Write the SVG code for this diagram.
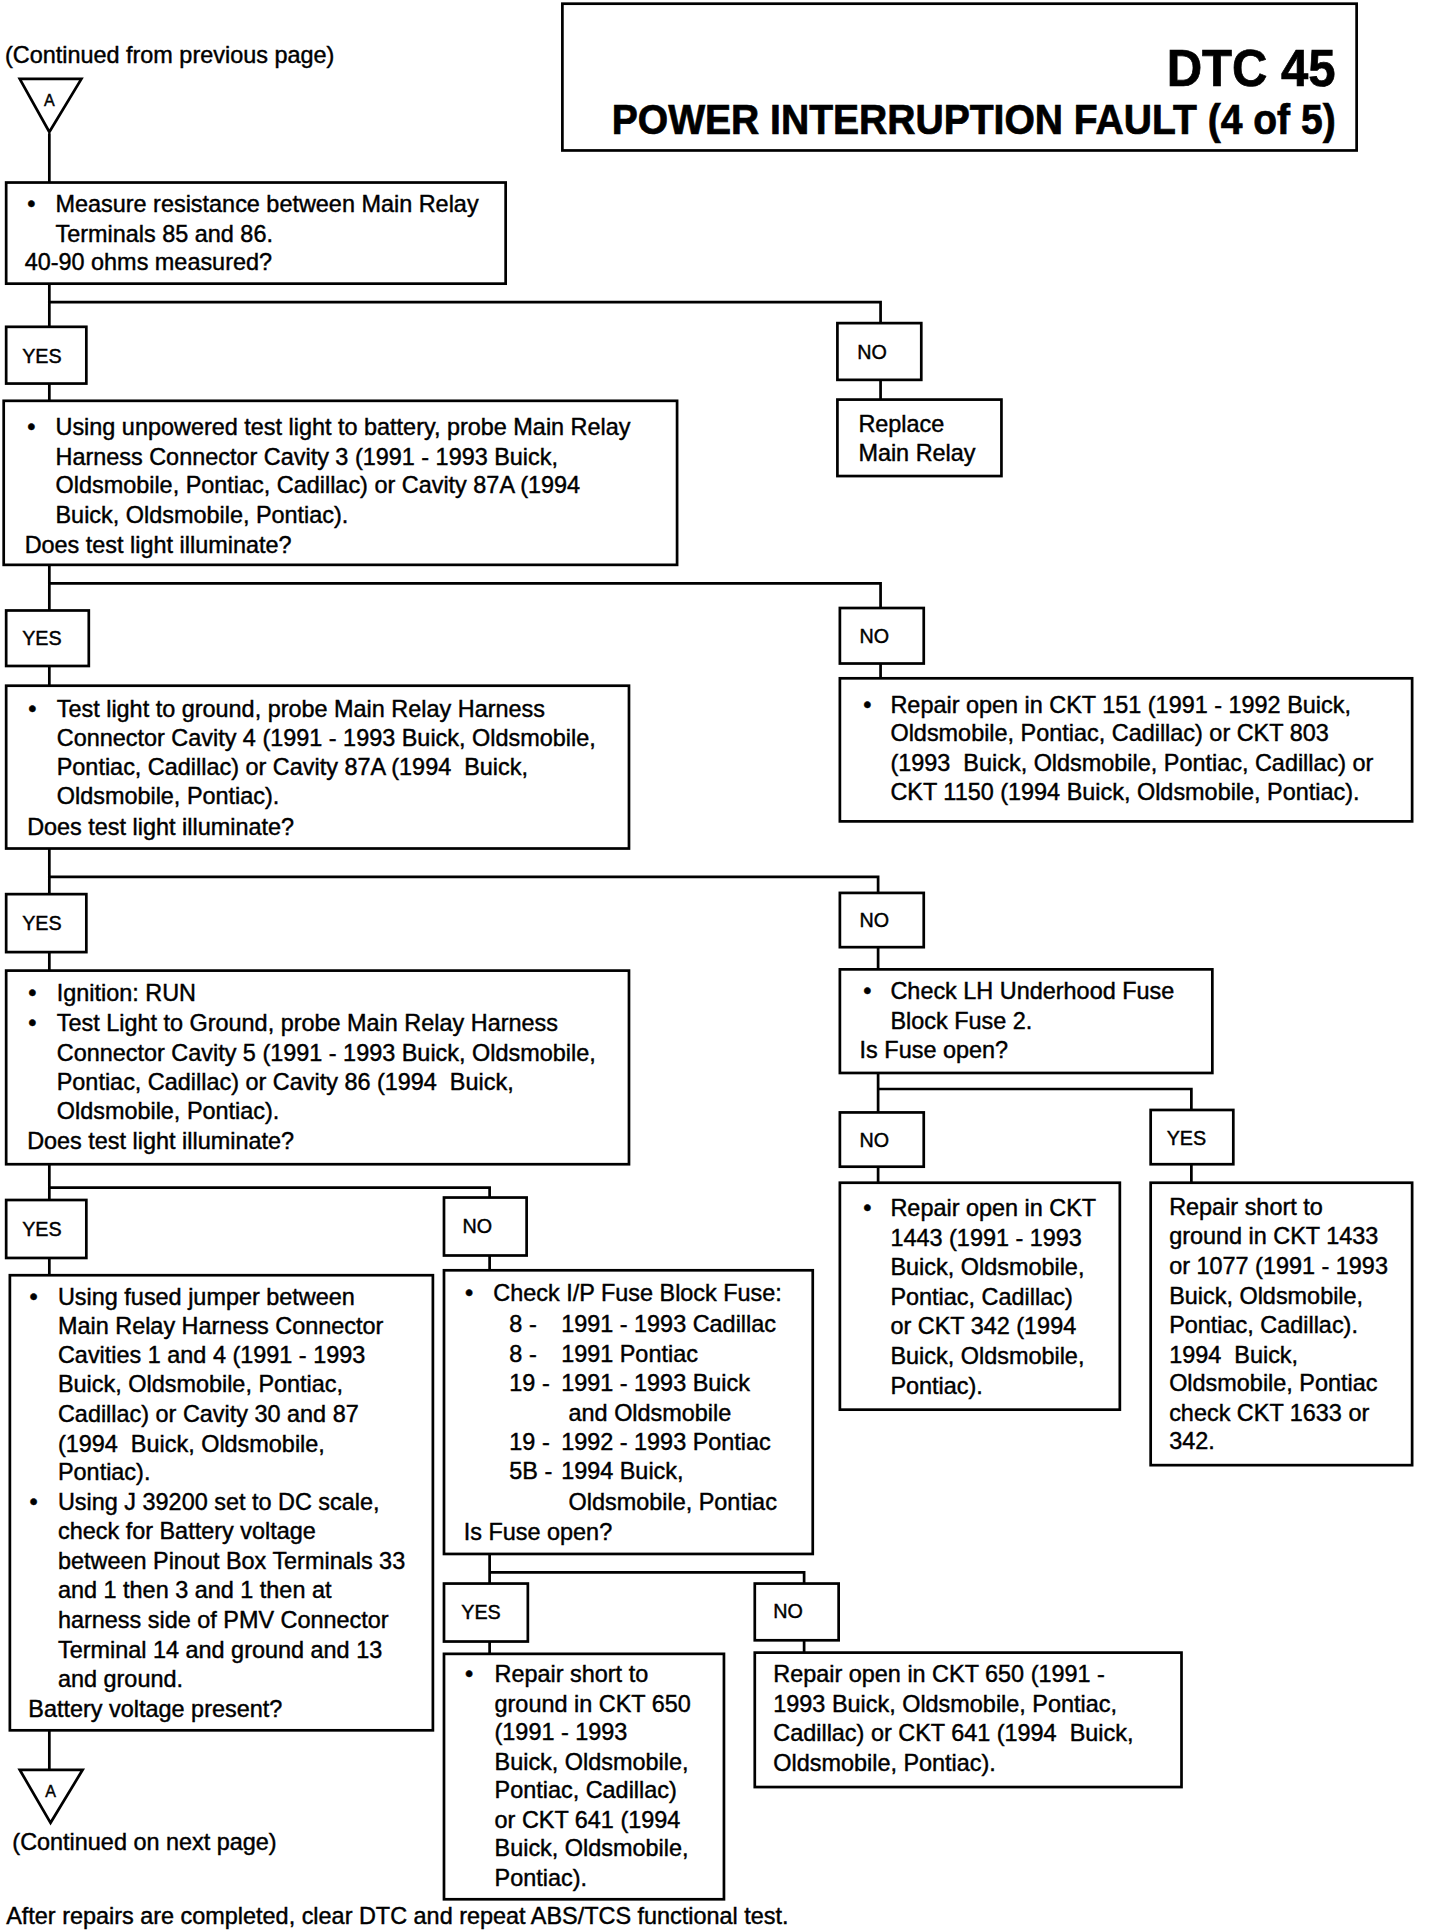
<svg xmlns="http://www.w3.org/2000/svg" width="1440" height="1930" viewBox="0 0 1440 1930">
<style>
.b{fill:#fff;stroke:#000;stroke-width:2.2}
.c{fill:none;stroke:#000;stroke-width:2.2}
text{font-family:"Liberation Sans",Arial,Helvetica,sans-serif;font-size:19px;fill:#000;stroke:#000;stroke-width:0.35;white-space:pre}
.l{font-size:16px}
.t1{font-size:42px;font-weight:bold;stroke-width:0.6}
.t2{font-size:35px;font-weight:bold;stroke-width:0.6}
.a{font-size:13px}
</style>
<rect width="1440" height="1930" fill="#fff"/>
<g transform="scale(1.2333)">
<g id="connectors">
<path class="c" d="M40 108V148M40 230V265M40 245H714V262M40 311V325M714 308V324M40 458V495M40 473H714V493M40 540V556M714 538V550M40 688V725M40 711H712V724M40 772V787M712 768V786M712 870V902M712 883H966V900M712 946V959M966 944V959M40 944V973M40 963H397V971M40 1020V1034M397 1018V1030M40 1403V1437M397 1260V1284M397 1275H652V1284M397 1331V1341M652 1330V1340"/>
</g>
<g id="title">
<rect class="b" x="456" y="3" width="644" height="119"/>
<text class="t1" x="1083" y="70" text-anchor="end" textLength="137" lengthAdjust="spacingAndGlyphs">DTC 45</text>
<text class="t2" x="1083" y="109" text-anchor="end" textLength="587" lengthAdjust="spacingAndGlyphs">POWER INTERRUPTION FAULT (4 of 5)</text>
</g>
<g id="continued-from">
<text x="4" y="51">(Continued from previous page)</text>
</g>
<g id="connector-a-top">
<polygon class="b" points="16,64 66,64 40,107"/>
<text class="a" x="40" y="86" text-anchor="middle">A</text>
</g>
<g id="box1">
<rect class="b" x="5" y="148" width="405" height="82"/>
<text x="22" y="172">•</text>
<text x="45" y="172">Measure resistance between Main Relay</text>
<text x="45" y="196">Terminals 85 and 86.</text>
<text x="20" y="219">40-90 ohms measured?</text>
</g>
<g id="yes1"><rect class="b" x="5" y="265" width="65" height="46"/><text class="l" x="18" y="294">YES</text></g>
<g id="no1"><rect class="b" x="679" y="262" width="68" height="46"/><text class="l" x="695" y="291">NO</text></g>
<g id="replace-relay">
<rect class="b" x="679" y="324" width="133" height="62"/>
<text x="696" y="350">Replace</text>
<text x="696" y="374">Main Relay</text>
</g>
<g id="box2">
<rect class="b" x="3" y="325" width="546" height="133"/>
<text x="22" y="353">•</text>
<text x="45" y="353">Using unpowered test light to battery, probe Main Relay</text>
<text x="45" y="377">Harness Connector Cavity 3 (1991 - 1993 Buick,</text>
<text x="45" y="400">Oldsmobile, Pontiac, Cadillac) or Cavity 87A (1994</text>
<text x="45" y="424">Buick, Oldsmobile, Pontiac).</text>
<text x="20" y="448">Does test light illuminate?</text>
</g>
<g id="yes2"><rect class="b" x="5" y="495" width="67" height="45"/><text class="l" x="18" y="523">YES</text></g>
<g id="no2"><rect class="b" x="681" y="493" width="68" height="45"/><text class="l" x="697" y="521">NO</text></g>
<g id="box3">
<rect class="b" x="5" y="556" width="505" height="132"/>
<text x="23" y="581">•</text>
<text x="46" y="581">Test light to ground, probe Main Relay Harness</text>
<text x="46" y="605">Connector Cavity 4 (1991 - 1993 Buick, Oldsmobile,</text>
<text x="46" y="628">Pontiac, Cadillac) or Cavity 87A (1994  Buick,</text>
<text x="46" y="652">Oldsmobile, Pontiac).</text>
<text x="22" y="677">Does test light illuminate?</text>
</g>
<g id="repair-ckt151">
<rect class="b" x="681" y="550" width="464" height="116"/>
<text x="700" y="578">•</text>
<text x="722" y="578">Repair open in CKT 151 (1991 - 1992 Buick,</text>
<text x="722" y="601">Oldsmobile, Pontiac, Cadillac) or CKT 803</text>
<text x="722" y="625">(1993  Buick, Oldsmobile, Pontiac, Cadillac) or</text>
<text x="722" y="649">CKT 1150 (1994 Buick, Oldsmobile, Pontiac).</text>
</g>
<g id="yes3"><rect class="b" x="5" y="725" width="65" height="47"/><text class="l" x="18" y="754">YES</text></g>
<g id="no3"><rect class="b" x="681" y="724" width="68" height="44"/><text class="l" x="697" y="752">NO</text></g>
<g id="box4">
<rect class="b" x="5" y="787" width="505" height="157"/>
<text x="23" y="812">•</text>
<text x="46" y="812">Ignition: RUN</text>
<text x="23" y="836">•</text>
<text x="46" y="836">Test Light to Ground, probe Main Relay Harness</text>
<text x="46" y="860">Connector Cavity 5 (1991 - 1993 Buick, Oldsmobile,</text>
<text x="46" y="884">Pontiac, Cadillac) or Cavity 86 (1994  Buick,</text>
<text x="46" y="907">Oldsmobile, Pontiac).</text>
<text x="22" y="932">Does test light illuminate?</text>
</g>
<g id="check-lh-fuse">
<rect class="b" x="681" y="786" width="302" height="84"/>
<text x="700" y="810">•</text>
<text x="722" y="810">Check LH Underhood Fuse</text>
<text x="722" y="834">Block Fuse 2.</text>
<text x="697" y="858">Is Fuse open?</text>
</g>
<g id="no4"><rect class="b" x="681" y="902" width="68" height="44"/><text class="l" x="697" y="930">NO</text></g>
<g id="yes4"><rect class="b" x="933" y="900" width="67" height="44"/><text class="l" x="946" y="928">YES</text></g>
<g id="repair-ckt1443">
<rect class="b" x="681" y="959" width="227" height="184"/>
<text x="700" y="986">•</text>
<text x="722" y="986">Repair open in CKT</text>
<text x="722" y="1010">1443 (1991 - 1993</text>
<text x="722" y="1034">Buick, Oldsmobile,</text>
<text x="722" y="1058">Pontiac, Cadillac)</text>
<text x="722" y="1082">or CKT 342 (1994</text>
<text x="722" y="1106">Buick, Oldsmobile,</text>
<text x="722" y="1130">Pontiac).</text>
</g>
<g id="repair-short-ckt1433">
<rect class="b" x="933" y="959" width="212" height="229"/>
<text x="948" y="985">Repair short to</text>
<text x="948" y="1009">ground in CKT 1433</text>
<text x="948" y="1033">or 1077 (1991 - 1993</text>
<text x="948" y="1057">Buick, Oldsmobile,</text>
<text x="948" y="1081">Pontiac, Cadillac).</text>
<text x="948" y="1105">1994  Buick,</text>
<text x="948" y="1128">Oldsmobile, Pontiac</text>
<text x="948" y="1152">check CKT 1633 or</text>
<text x="948" y="1175">342.</text>
</g>
<g id="yes5"><rect class="b" x="5" y="973" width="65" height="47"/><text class="l" x="18" y="1002">YES</text></g>
<g id="no5"><rect class="b" x="360" y="971" width="67" height="47"/><text class="l" x="375" y="1000">NO</text></g>
<g id="box5">
<rect class="b" x="8" y="1034" width="343" height="369"/>
<text x="24" y="1058">•</text>
<text x="47" y="1058">Using fused jumper between</text>
<text x="47" y="1082">Main Relay Harness Connector</text>
<text x="47" y="1105">Cavities 1 and 4 (1991 - 1993</text>
<text x="47" y="1129">Buick, Oldsmobile, Pontiac,</text>
<text x="47" y="1153">Cadillac) or Cavity 30 and 87</text>
<text x="47" y="1177">(1994  Buick, Oldsmobile,</text>
<text x="47" y="1200">Pontiac).</text>
<text x="24" y="1224">•</text>
<text x="47" y="1224">Using J 39200 set to DC scale,</text>
<text x="47" y="1248">check for Battery voltage</text>
<text x="47" y="1272">between Pinout Box Terminals 33</text>
<text x="47" y="1296">and 1 then 3 and 1 then at</text>
<text x="47" y="1320">harness side of PMV Connector</text>
<text x="47" y="1344">Terminal 14 and ground and 13</text>
<text x="47" y="1368">and ground.</text>
<text x="23" y="1392">Battery voltage present?</text>
</g>
<g id="check-ip-fuse">
<rect class="b" x="360" y="1030" width="299" height="230"/>
<text x="377" y="1055">•</text>
<text x="400" y="1055">Check I/P Fuse Block Fuse:</text>
<text x="413" y="1080">8 -</text><text x="455" y="1080">1991 - 1993 Cadillac</text>
<text x="413" y="1104">8 -</text><text x="455" y="1104">1991 Pontiac</text>
<text x="413" y="1128">19 -</text><text x="455" y="1128">1991 - 1993 Buick</text>
<text x="461" y="1152">and Oldsmobile</text>
<text x="413" y="1176">19 -</text><text x="455" y="1176">1992 - 1993 Pontiac</text>
<text x="413" y="1199">5B -</text><text x="455" y="1199">1994 Buick,</text>
<text x="461" y="1224">Oldsmobile, Pontiac</text>
<text x="376" y="1249">Is Fuse open?</text>
</g>
<g id="connector-a-bottom">
<polygon class="b" points="16,1435 67,1435 41,1478"/>
<text class="a" x="41" y="1457" text-anchor="middle">A</text>
</g>
<g id="continued-next">
<text x="10" y="1500">(Continued on next page)</text>
</g>
<g id="yes6"><rect class="b" x="360" y="1284" width="68" height="47"/><text class="l" x="374" y="1313">YES</text></g>
<g id="no6"><rect class="b" x="612" y="1284" width="68" height="46"/><text class="l" x="627" y="1312">NO</text></g>
<g id="repair-short-ckt650">
<rect class="b" x="360" y="1341" width="227" height="199"/>
<text x="377" y="1364">•</text>
<text x="401" y="1364">Repair short to</text>
<text x="401" y="1388">ground in CKT 650</text>
<text x="401" y="1411">(1991 - 1993</text>
<text x="401" y="1435">Buick, Oldsmobile,</text>
<text x="401" y="1458">Pontiac, Cadillac)</text>
<text x="401" y="1482">or CKT 641 (1994</text>
<text x="401" y="1505">Buick, Oldsmobile,</text>
<text x="401" y="1529">Pontiac).</text>
</g>
<g id="repair-open-ckt650">
<rect class="b" x="612" y="1340" width="346" height="109"/>
<text x="627" y="1364">Repair open in CKT 650 (1991 -</text>
<text x="627" y="1388">1993 Buick, Oldsmobile, Pontiac,</text>
<text x="627" y="1412">Cadillac) or CKT 641 (1994  Buick,</text>
<text x="627" y="1436">Oldsmobile, Pontiac).</text>
</g>
<g id="footer">
<text x="5" y="1560">After repairs are completed, clear DTC and repeat ABS/TCS functional test.</text>
</g>
</g>
</svg>
